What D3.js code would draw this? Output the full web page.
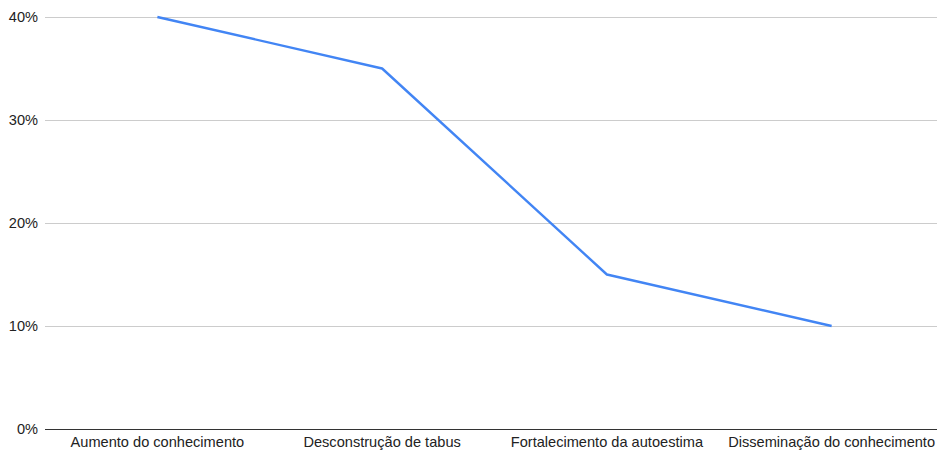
<!DOCTYPE html>
<html>
<head>
<meta charset="utf-8">
<script src="https://cdn.jsdelivr.net/npm/d3@7"></script>
<style>
  html, body { margin: 0; padding: 0; background: #fff; overflow: hidden; }
  svg text { font-family: "Liberation Sans", Arial, sans-serif; font-size: 14.6px; fill: #222; }
</style>
</head>
<body>
<div id="chart"></div>
<script>
const categories = ['Aumento do conhecimento', 'Desconstrução de tabus', 'Fortalecimento da autoestima', 'Disseminação do conhecimento'];
const values = [0.40, 0.35, 0.15, 0.10];
const yTicks = [0, 0.1, 0.2, 0.3, 0.4];

const width = 937, height = 450;
const MARGIN = { top: 17, left: 45, bottom: 21 };
const plotRight = 944;

const svg = d3.select('#chart').append('svg')
  .attr('width', width).attr('height', height)
  .attr('viewBox', `0 0 ${width} ${height}`);

const x = d3.scaleBand().domain(categories).range([MARGIN.left, plotRight]);
const y = d3.scaleLinear().domain([0, 0.4]).range([height - MARGIN.bottom, MARGIN.top]);

// grid
svg.append('g').selectAll('line').data(yTicks.filter((t) => t > 0)).join('line')
  .attr('x1', MARGIN.left).attr('x2', plotRight)
  .attr('y1', (t) => Math.round(y(t)) + 0.5).attr('y2', (t) => Math.round(y(t)) + 0.5)
  .attr('stroke', '#cccccc').attr('stroke-width', 1);

// baseline
svg.append('line')
  .attr('x1', MARGIN.left).attr('x2', plotRight)
  .attr('y1', Math.round(y(0)) + 0.5).attr('y2', Math.round(y(0)) + 0.5)
  .attr('stroke', '#333').attr('stroke-width', 1);

// y labels
svg.append('g').selectAll('text').data(yTicks).join('text')
  .attr('x', 38).attr('y', (t) => y(t) + 5)
  .attr('text-anchor', 'end')
  .text((t) => d3.format('.0%')(t));

// x labels
svg.append('g').selectAll('text').data(categories).join('text')
  .attr('x', (c) => x(c) + x.bandwidth() / 2).attr('y', 447)
  .attr('text-anchor', 'middle')
  .text((c) => c);

const line = d3.line()
  .x((d, i) => x(categories[i]) + x.bandwidth() / 2)
  .y((d) => y(d));
svg.append('path').datum(values)
  .attr('fill', 'none').attr('stroke', '#4285f4').attr('stroke-width', 2.4)
  .attr('stroke-linejoin', 'round')
  .attr('d', line);
</script>
</body>
</html>
